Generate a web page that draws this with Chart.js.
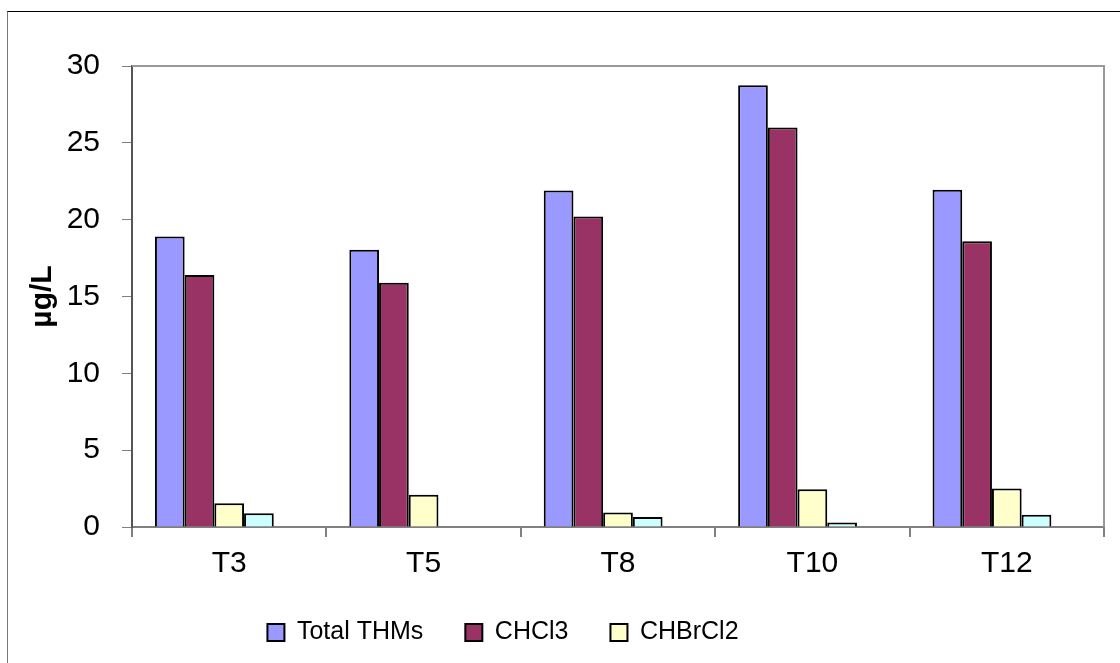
<!DOCTYPE html>
<html>
<head>
<meta charset="utf-8">
<script src="https://cdn.jsdelivr.net/npm/chart.js@4"></script>
<style>
  body { margin: 0; background: #fff; }
  #quadro { position: absolute; left: 7px; top: 11px; width: 1200px; height: 700px;
            border-top: 1px solid #000; border-left: 1px solid #777; }
  #grafico { position: absolute; left: 0; top: 0; }
</style>
</head>
<body>
<div id="quadro"></div>
<canvas id="grafico" width="1120" height="663"></canvas>
<script>
// Dados (µg/L)
const categorias = ['T3', 'T5', 'T8', 'T10', 'T12'];
const totalTHMs = [18.9, 18.05, 21.9, 28.75, 21.95];
const chcl3 = [16.4, 15.9, 20.2, 26.0, 18.6];
const chbrcl2 = [1.55, 2.1, 0.95, 2.45, 2.5];
const chbr2cl = [0.9, null, 0.65, 0.3, 0.8];
const chbr3 = [null, null, null, null, null];   // série sem barras visíveis
const ticksY = [0, 5, 10, 15, 20, 25, 30];

const fonte = '"Liberation Sans", Arial, sans-serif';

// Moldura cinza do topo e da direita da área do gráfico
const molduraArea = {
    id: 'molduraArea',
    afterDatasetsDraw(chart) {
        const { ctx, chartArea: a } = chart;
        ctx.save();
        ctx.strokeStyle = '#999';
        ctx.lineWidth = 2;
        ctx.beginPath();
        ctx.moveTo(a.left, a.top);
        ctx.lineTo(a.right, a.top);
        ctx.lineTo(a.right, a.bottom);
        ctx.stroke();
        ctx.restore();
    }
};

// Desloca a legenda para a esquerda, como no original
const deslocaLegenda = {
    id: 'deslocaLegenda',
    afterLayout(chart) {
        const dx = -49;
        chart.legend.left += dx;
        chart.legend.right += dx;
    }
};

const ctx = document.getElementById('grafico').getContext('2d');

new Chart(ctx, {
    type: 'bar',
    data: {
        labels: categorias,
        datasets: [
            { label: 'Total THMs', data: totalTHMs, backgroundColor: '#9999FF' },
            { label: 'CHCl3', data: chcl3, backgroundColor: '#993366' },
            { label: 'CHBrCl2', data: chbrcl2, backgroundColor: '#FFFFCC' },
            { label: 'CHBr2Cl', data: chbr2cl, backgroundColor: '#CCFFFF' },
            { label: 'CHBr3', data: chbr3, backgroundColor: '#FFFFFF' }
        ].map(d => Object.assign(d, {
            borderColor: '#000',
            borderWidth: 2,
            categoryPercentage: 0.764,
            barPercentage: 1
        }))
    },
    options: {
        responsive: false,
        animation: false,
        devicePixelRatio: 1,
        layout: { padding: { left: 0, right: 16, top: 66, bottom: 8 } },
        plugins: {
            tooltip: { enabled: false },
            legend: {
                position: 'bottom',
                labels: {
                    filter: item => item.datasetIndex < 3,
                    boxWidth: 17,
                    boxHeight: 17,
                    padding: 42,
                    color: '#000',
                    font: { family: fonte, size: 25 }
                }
            }
        },
        scales: {
            x: {
                afterFit: s => { s.height = 51; },
                grid: { drawOnChartArea: false, tickLength: 10, color: '#808080', lineWidth: 2 },
                border: { color: '#808080', width: 2 },
                ticks: { color: '#000', padding: 9, font: { family: fonte, size: 30 } }
            },
            y: {
                min: 0,
                max: 30,
                afterFit: s => { s.width = 132; },
                afterBuildTicks: s => { s.ticks = ticksY.map(v => ({ value: v })); },
                grid: { drawOnChartArea: false, tickLength: 10, color: '#808080', lineWidth: 1 },
                border: { color: '#555', width: 2 },
                ticks: { color: '#000', padding: 22, font: { family: fonte, size: 30 } },
                title: {
                    display: true,
                    text: 'µg/L',
                    color: '#000',
                    padding: { top: 25, bottom: 0 },
                    font: { family: fonte, size: 30, weight: 'bold' }
                }
            }
        }
    },
    plugins: [molduraArea, deslocaLegenda]
});
</script>
</body>
</html>
